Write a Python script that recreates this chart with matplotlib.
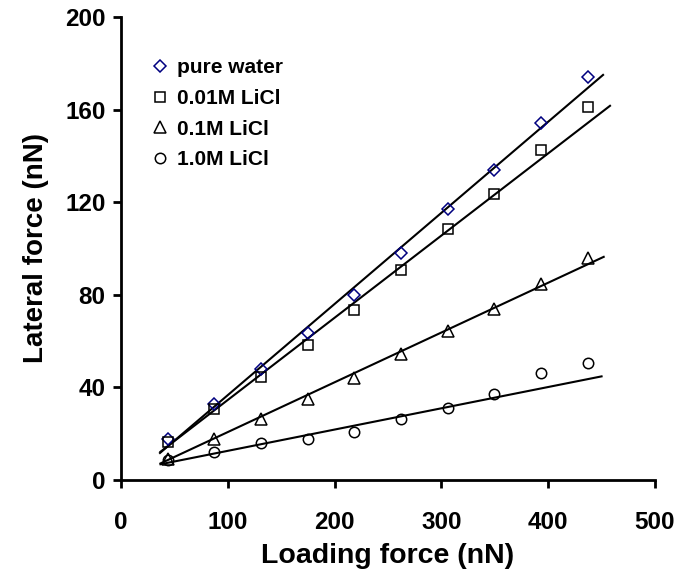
import numpy as np
import matplotlib
matplotlib.use("Agg")
import matplotlib.pyplot as plt

plt.rcParams['font.family'] = ['Liberation Sans', 'DejaVu Sans']
plt.rcParams['font.weight'] = 'bold'

# 加载力 (nN)
loading = [43.7, 87.4, 131.1, 174.8, 218.5, 262.2, 305.9, 349.6, 393.3, 437.0]

# 摩擦力 (nN)
pure_water = [17.5, 33.0, 48.0, 63.4, 80.0, 98.0, 117.0, 134.0, 154.3, 174.0]
licl_001 = [16.3, 30.7, 44.4, 58.4, 73.5, 90.7, 108.3, 123.4, 142.5, 161.0]
licl_01 = [9.0, 17.6, 26.2, 35.0, 43.9, 54.3, 64.5, 73.9, 84.5, 96.0]
licl_1 = [8.5, 12.2, 15.8, 17.7, 20.9, 26.3, 31.0, 37.0, 46.0, 50.5]

labels = ["pure water", "0.01M LiCl", "0.1M LiCl", "1.0M LiCl"]

# 拟合直线 (从图上读出的斜率/截距和范围)
fit_slope = [0.3936, 0.355, 0.215, 0.0919]
fit_intercept = [-2.7, -0.93, -0.8, 3.4]
fit_start = [36.5, 37.0, 37.0, 37.0]
fit_end = [451.4, 457.9, 452.0, 450.0]

series = [pure_water, licl_001, licl_01, licl_1]
markers = ["D", "s", "^", "o"]
colors = ["#000080", "black", "black", "black"]
msizes = [6.5, 7.5, 8.5, 7.5]

fig = plt.figure(figsize=(6.89, 5.79), dpi=100)
ax = fig.add_axes([0.1756, 0.171, 0.775, 0.7997])

for i in range(4):
    ax.plot(loading, series[i], linestyle="none", marker=markers[i],
            markersize=msizes[i], markerfacecolor="none",
            markeredgecolor=colors[i], markeredgewidth=1.1,
            label=labels[i], zorder=3)
    xx = np.array([fit_start[i], fit_end[i]])
    ax.plot(xx, fit_slope[i] * xx + fit_intercept[i], color="black",
            linewidth=1.5, zorder=2)

ax.set_xlim(0, 500)
ax.set_ylim(0, 200)
ax.set_xticks([0, 100, 200, 300, 400, 500])
ax.set_yticks([0, 40, 80, 120, 160, 200])

ax.spines['top'].set_visible(False)
ax.spines['right'].set_visible(False)
ax.spines['left'].set_linewidth(2)
ax.spines['bottom'].set_linewidth(2)
ax.tick_params(direction="out", length=6, width=2, labelsize=17.5)
ax.tick_params(axis="x", pad=16)
ax.tick_params(axis="y", pad=5)

ax.set_xlabel("Loading force (nN)", fontsize=20.5, fontweight="bold", labelpad=7)
ax.set_ylabel("Lateral force (nN)", fontsize=20, fontweight="bold", labelpad=12)

leg = ax.legend(loc="upper left", bbox_to_anchor=(0.038, 0.933), frameon=False,
                fontsize=15, handlelength=0.8, handletextpad=0.4,
                labelspacing=0.56, borderpad=0)
for t in leg.get_texts():
    t.set_fontweight("bold")

fig.savefig("out.png", dpi=100)
